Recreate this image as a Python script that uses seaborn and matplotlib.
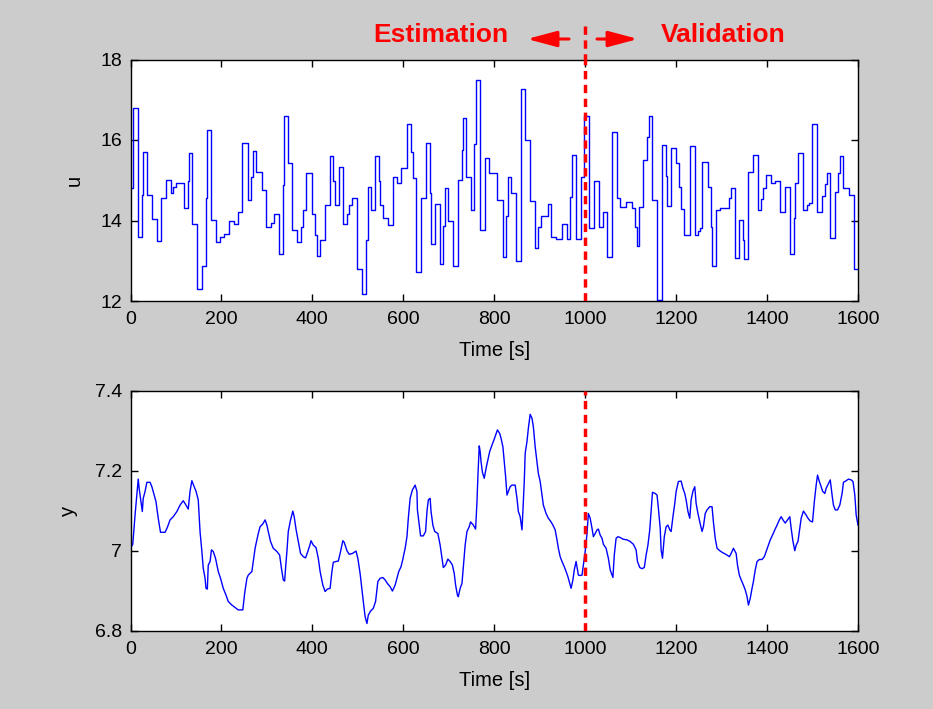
import numpy as np
import pandas as pd
import matplotlib
matplotlib.use("Agg")
import matplotlib.pyplot as plt
import seaborn as sns

# ---------------- data ----------------
u_time = [0, 6, 17, 26, 28, 36, 47, 58, 66, 77, 88, 94, 99, 118, 126, 129, 136, 147, 158, 167,
          169, 176, 188, 197, 206, 217, 228, 237, 246, 258, 265, 269, 277, 289, 298, 308, 316, 327,
          336, 338, 347, 356, 367, 375, 380, 386, 399, 405, 410, 417, 428, 439, 446, 450, 459, 468,
          476, 480, 487, 498, 509, 517, 522, 528, 538, 547, 549, 556, 567, 578, 586, 596, 608, 617,
          621, 627, 638, 649, 658, 660, 669, 680, 687, 691, 698, 709, 720, 729, 732, 738, 749, 756,
          760, 768, 779, 789, 807, 819, 826, 830, 837, 848, 859, 868, 879, 889, 897, 903, 918, 925,
          936, 949, 960, 967, 971, 980, 990, 998, 1009, 1020, 1031, 1040, 1048, 1060, 1070, 1077,
          1089, 1103, 1109, 1115, 1119, 1128, 1136, 1141, 1148, 1158, 1170, 1178, 1181, 1189, 1200,
          1207, 1211, 1218, 1230, 1241, 1248, 1252, 1258, 1270, 1277, 1280, 1288, 1297, 1317, 1321,
          1329, 1339, 1346, 1349, 1358, 1369, 1381, 1387, 1391, 1398, 1409, 1418, 1428, 1440, 1451,
          1459, 1462, 1469, 1480, 1488, 1493, 1499, 1510, 1521, 1527, 1532, 1539, 1550, 1556, 1561,
          1568, 1581, 1592, 1600]
u_value = [14.80, 16.80, 13.59, 14.64, 15.71, 14.64, 14.04, 13.50, 14.55, 15.00, 14.68, 14.84, 14.93,
           14.30, 14.97, 15.67, 13.92, 12.30, 12.88, 14.55, 16.25, 14.02, 13.46, 13.58, 13.67, 13.98,
           13.92, 14.22, 15.93, 14.50, 15.09, 15.72, 15.21, 14.75, 13.83, 13.95, 14.17, 13.17, 14.88,
           16.60, 15.43, 13.77, 13.46, 13.85, 14.26, 15.17, 14.17, 13.64, 13.13, 13.52, 14.38, 15.60,
           14.98, 14.38, 15.34, 13.92, 14.16, 14.38, 14.55, 12.80, 12.17, 13.52, 14.83, 14.26, 15.60,
           14.98, 14.38, 14.06, 13.88, 15.09, 14.94, 15.30, 16.39, 15.69, 15.05, 12.71, 14.55, 15.93,
           14.69, 13.42, 14.42, 12.92, 13.86, 14.80, 13.98, 12.88, 15.00, 15.75, 16.55, 15.08, 14.26,
           15.89, 17.50, 13.77, 15.55, 15.17, 14.51, 13.09, 14.10, 15.09, 14.69, 13.00, 17.26, 16.00,
           14.48, 13.31, 13.83, 14.12, 14.42, 13.58, 13.55, 13.92, 13.55, 14.59, 15.63, 13.55, 15.09,
           16.60, 13.81, 14.97, 13.83, 14.22, 13.09, 16.21, 14.55, 14.34, 14.47, 14.30, 13.83, 13.37,
           14.34, 15.50, 16.08, 16.60, 14.51, 12.03, 15.88, 15.11, 14.35, 15.79, 15.44, 14.84, 14.29,
           13.63, 15.85, 13.63, 13.73, 13.81, 15.46, 14.84, 13.85, 12.88, 14.26, 14.30, 14.55, 14.80,
           13.07, 14.02, 13.52, 13.05, 15.21, 15.63, 14.26, 14.54, 14.80, 15.13, 14.93, 14.99, 14.22,
           14.84, 13.17, 14.06, 14.94, 15.67, 14.26, 14.39, 14.43, 16.39, 14.22, 14.60, 14.90, 15.17,
           13.56, 14.72, 15.17, 15.61, 14.80, 14.64, 12.80, 12.80]

y_time = [0, 5, 10, 14, 17, 19, 22, 26, 28, 32, 36, 43, 47, 50, 56, 61, 66, 76, 81, 87, 94, 102,
          109, 116, 122, 127, 131, 135, 140, 144, 149, 153, 157, 160, 164, 166, 169, 171, 175, 178,
          182, 187, 193, 198, 204, 210, 215, 223, 230, 237, 247, 251, 256, 259, 267, 270, 274, 278,
          281, 285, 291, 296, 300, 303, 308, 314, 322, 328, 332, 336, 339, 341, 344, 347, 352, 357,
          360, 364, 369, 374, 380, 385, 390, 395, 397, 402, 408, 413, 417, 423, 428, 433, 439, 443,
          446, 452, 457, 462, 467, 470, 476, 481, 488, 496, 500, 505, 509, 512, 516, 520, 523, 528,
          534, 539, 544, 549, 555, 560, 565, 571, 576, 582, 586, 590, 595, 599, 604, 608, 611, 615,
          620, 626, 630, 631, 635, 638, 644, 649, 652, 655, 659, 661, 665, 669, 676, 681, 685, 688,
          693, 698, 703, 708, 712, 715, 719, 721, 725, 729, 732, 736, 740, 745, 748, 754, 759, 762,
          764, 767, 769, 771, 774, 778, 782, 786, 790, 795, 800, 807, 812, 815, 819, 822, 825, 828,
          831, 835, 839, 846, 850, 853, 857, 861, 863, 866, 868, 872, 875, 879, 883, 886, 890, 894,
          897, 901, 905, 908, 914, 919, 925, 929, 934, 938, 941, 945, 949, 954, 958, 962, 966, 969,
          973, 976, 980, 982, 985, 989, 993, 996, 1000, 1004, 1007, 1011, 1015, 1018, 1022, 1026,
          1029, 1033, 1037, 1040, 1046, 1051, 1055, 1059, 1061, 1064, 1068, 1072, 1077, 1083, 1092,
          1099, 1106, 1112, 1115, 1120, 1125, 1130, 1134, 1138, 1142, 1145, 1148, 1154, 1158, 1161,
          1165, 1167, 1170, 1174, 1178, 1182, 1186, 1189, 1193, 1197, 1200, 1205, 1211, 1215, 1219,
          1222, 1226, 1230, 1233, 1237, 1241, 1244, 1248, 1252, 1257, 1260, 1264, 1268, 1274, 1279,
          1282, 1286, 1290, 1296, 1301, 1306, 1312, 1317, 1321, 1326, 1332, 1335, 1339, 1343, 1348,
          1352, 1356, 1359, 1363, 1367, 1370, 1374, 1378, 1383, 1389, 1394, 1398, 1403, 1407, 1412,
          1417, 1422, 1427, 1431, 1435, 1440, 1445, 1450, 1453, 1457, 1461, 1464, 1468, 1472, 1475,
          1480, 1486, 1490, 1495, 1500, 1504, 1508, 1511, 1515, 1519, 1522, 1527, 1530, 1535, 1539,
          1543, 1546, 1550, 1555, 1560, 1565, 1568, 1574, 1579, 1585, 1589, 1593, 1596, 1600]
y_value = [7.006, 7.016, 7.089, 7.139, 7.179, 7.156, 7.131, 7.098, 7.131, 7.148, 7.171, 7.171, 7.160,
           7.148, 7.123, 7.081, 7.046, 7.046, 7.058, 7.077, 7.085, 7.098, 7.114, 7.125, 7.114, 7.104,
           7.149, 7.175, 7.160, 7.149, 7.127, 7.047, 6.998, 6.956, 6.931, 6.906, 6.904, 6.964, 6.973,
           7.002, 6.998, 6.981, 6.948, 6.931, 6.906, 6.889, 6.873, 6.864, 6.858, 6.852, 6.852, 6.893,
           6.931, 6.939, 6.948, 6.973, 7.006, 7.027, 7.043, 7.060, 7.067, 7.077, 7.064, 7.048, 7.023,
           7.006, 6.998, 6.989, 6.956, 6.927, 6.924, 6.956, 6.998, 7.048, 7.077, 7.099, 7.085, 7.054,
           7.023, 6.993, 6.985, 6.982, 6.998, 7.016, 7.025, 7.014, 7.008, 6.981, 6.948, 6.914, 6.898,
           6.904, 6.906, 6.948, 6.971, 6.973, 6.974, 6.998, 7.025, 7.021, 7.000, 6.991, 6.993, 6.999,
           6.981, 6.943, 6.902, 6.873, 6.835, 6.818, 6.839, 6.849, 6.856, 6.873, 6.923, 6.931, 6.933,
           6.927, 6.918, 6.910, 6.899, 6.914, 6.931, 6.948, 6.960, 6.979, 7.006, 7.035, 7.081, 7.131,
           7.152, 7.164, 7.148, 7.102, 7.064, 7.037, 7.037, 7.048, 7.098, 7.127, 7.131, 7.098, 7.064,
           7.048, 7.043, 7.014, 6.981, 6.958, 6.964, 6.979, 6.973, 6.964, 6.943, 6.914, 6.889, 6.885,
           6.906, 6.918, 6.960, 7.014, 7.048, 7.060, 7.072, 7.064, 7.054, 7.122, 7.185, 7.262, 7.248,
           7.222, 7.196, 7.181, 7.206, 7.227, 7.248, 7.264, 7.279, 7.302, 7.293, 7.281, 7.260, 7.222,
           7.185, 7.139, 7.148, 7.160, 7.164, 7.164, 7.131, 7.098, 7.085, 7.052, 7.098, 7.173, 7.243,
           7.273, 7.306, 7.341, 7.331, 7.310, 7.260, 7.222, 7.193, 7.173, 7.139, 7.114, 7.093, 7.081,
           7.072, 7.064, 7.052, 7.027, 7.006, 6.985, 6.973, 6.960, 6.948, 6.935, 6.918, 6.906, 6.927,
           6.952, 6.973, 6.960, 6.939, 6.938, 6.939, 6.964, 6.998, 7.043, 7.093, 7.081, 7.056, 7.035,
           7.043, 7.052, 7.054, 7.039, 7.031, 7.016, 7.006, 6.981, 6.952, 6.939, 6.933, 6.989, 7.031,
           7.035, 7.033, 7.029, 7.027, 7.023, 7.016, 7.002, 6.973, 6.958, 6.955, 6.958, 6.989, 7.014,
           7.052, 7.098, 7.146, 7.143, 7.139, 7.106, 7.056, 7.002, 6.981, 7.035, 7.060, 7.064, 7.052,
           7.048, 7.085, 7.118, 7.148, 7.173, 7.174, 7.156, 7.143, 7.127, 7.098, 7.081, 7.127, 7.149,
           7.160, 7.118, 7.093, 7.072, 7.048, 7.060, 7.093, 7.102, 7.110, 7.110, 7.072, 7.031, 7.006,
           7.000, 6.996, 6.993, 6.989, 6.985, 6.993, 7.006, 6.993, 6.964, 6.939, 6.927, 6.914, 6.902,
           6.885, 6.864, 6.881, 6.906, 6.923, 6.952, 6.973, 6.978, 6.978, 6.985, 6.998, 7.014, 7.027,
           7.039, 7.052, 7.064, 7.077, 7.085, 7.077, 7.069, 7.077, 7.085, 7.056, 7.023, 7.000, 7.014,
           7.023, 7.056, 7.081, 7.099, 7.089, 7.081, 7.074, 7.072, 7.123, 7.164, 7.189, 7.173, 7.160,
           7.149, 7.143, 7.156, 7.168, 7.177, 7.139, 7.114, 7.102, 7.102, 7.114, 7.143, 7.171, 7.175,
           7.179, 7.177, 7.173, 7.139, 7.089, 7.064]

x_ticks = [0, 200, 400, 600, 800, 1000, 1200, 1400, 1600]
u_ticks = [12, 14, 16, 18]
y_ticks = [6.8, 7.0, 7.2, 7.4]
y_tick_labels = ["6.8", "7", "7.2", "7.4"]
split_time = 1000

# ---------------- style ----------------
sns.set_style("ticks")
plt.rcParams["font.family"] = ["Liberation Sans", "DejaVu Sans"]
plt.rcParams["axes.labelcolor"] = "black"
plt.rcParams["text.color"] = "black"

W, H = 933, 709
fig = plt.figure(figsize=(W / 100, H / 100), dpi=100, facecolor="#CCCCCC")

def px_axes(l, t, r, b):
    return fig.add_axes([l / W, 1 - b / H, (r - l) / W, (b - t) / H])

ax1 = px_axes(130.5, 59.5, 858, 301)
ax2 = px_axes(130.5, 390.7, 858, 630.7)

dfu = pd.DataFrame({"t": u_time, "u": u_value})
dfy = pd.DataFrame({"t": y_time, "y": y_value})

sns.lineplot(data=dfu, x="t", y="u", ax=ax1, color="#0000FF", lw=1.0,
             drawstyle="steps-post", estimator=None, sort=False)
sns.lineplot(data=dfy, x="t", y="y", ax=ax2, color="#0000FF", lw=1.0,
             estimator=None, sort=False)

for ax, yt, ylab, ylim in [(ax1, u_ticks, "u", (12, 18)), (ax2, y_ticks, "y", (6.8, 7.4))]:
    ax.set_facecolor("white")
    ax.set_xlim(0, 1600)
    ax.set_ylim(*ylim)
    ax.set_xticks(x_ticks)
    ax.set_yticks(yt)
    ax.tick_params(direction="in", length=5, width=1, top=True, right=True,
                   labelsize=14, colors="black")
    ax.tick_params(axis="x", pad=7.5)
    ax.tick_params(axis="y", pad=6)
    for s in ax.spines.values():
        s.set_visible(True)
        s.set_color("black")
        s.set_linewidth(1.0)
    ax.set_xlabel("Time [s]", fontsize=14.5, labelpad=9, color="black")
    ax.set_ylabel(ylab, fontsize=14.5, labelpad=12, color="black")
    ax.axvline(split_time, color="#FF0000", lw=2.5, linestyle=(0, (2.4, 1.6)), zorder=5)

ax1.set_yticklabels([str(v) for v in u_ticks])
ax2.set_yticklabels(y_tick_labels)
ax1.set_xticklabels([str(v) for v in x_ticks])
ax2.set_xticklabels([str(v) for v in x_ticks])

# header annotation
xs = 130.5 + split_time * (858 - 130.5) / 1600
fig.add_artist(plt.Line2D([xs / W, xs / W], [1 - 26 / H, 1 - 59.5 / H], color="#FF0000",
                          lw=2.5, linestyle=(0, (2.4, 1.6)), transform=fig.transFigure))
fig.text(508 / W, 1 - 35 / H, "Estimation", color="#FF0000", fontsize=19, fontweight="bold",
         ha="right", va="center")
fig.text(661 / W, 1 - 35 / H, "Validation", color="#FF0000", fontsize=19, fontweight="bold",
         ha="left", va="center")
arrow_kw = dict(arrowstyle="-|>,head_length=1.5,head_width=0.4", color="#FF0000", lw=2.2)
fig.add_artist(matplotlib.patches.FancyArrowPatch((569 / W, 1 - 39 / H), (527 / W, 1 - 39 / H),
                                                  transform=fig.transFigure, mutation_scale=12,
                                                  shrinkA=0, shrinkB=0, **arrow_kw))
fig.add_artist(matplotlib.patches.FancyArrowPatch((597 / W, 1 - 39 / H), (638 / W, 1 - 39 / H),
                                                  transform=fig.transFigure, mutation_scale=12,
                                                  shrinkA=0, shrinkB=0, **arrow_kw))

fig.savefig("out.png", dpi=100, facecolor=fig.get_facecolor())
